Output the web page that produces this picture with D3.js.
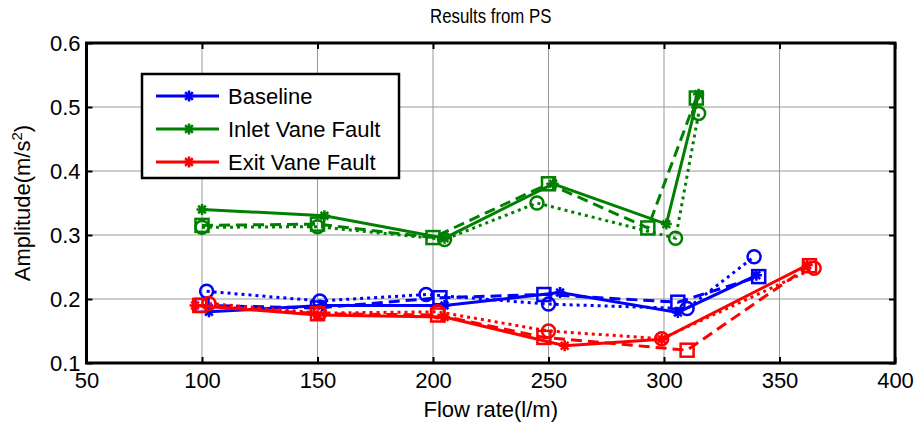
<!DOCTYPE html>
<html>
<head>
<meta charset="utf-8">
<script src="https://cdn.jsdelivr.net/npm/d3@7"></script>
<style>
  body { margin: 0; background: #fff; }
  text { font-family: "Liberation Sans", Arial, sans-serif; fill: #000; }
</style>
</head>
<body>
<div id="chart"></div>
<script>
// series: solid line with * markers, dashed with squares, dotted with circles
const baselineSolid = [[103, 0.180], [152, 0.190], [205, 0.190], [255, 0.210], [306, 0.179], [340, 0.237]];
const baselineDash  = [[100, 0.190], [150, 0.186], [203, 0.202], [248, 0.207], [306, 0.195], [341, 0.235]];
const baselineDot   = [[102, 0.212], [151, 0.197], [197, 0.207], [250, 0.192], [310, 0.185], [339, 0.266]];

const inletSolid = [[100, 0.340], [153, 0.330], [205, 0.295], [252, 0.380], [301, 0.317], [315, 0.520]];
const inletDash  = [[100, 0.315], [150, 0.317], [200, 0.296], [250, 0.380], [293, 0.311], [314, 0.514]];
const inletDot   = [[100, 0.312], [150, 0.313], [205, 0.293], [245, 0.350], [305, 0.295], [315, 0.490]];

const exitSolid = [[97, 0.190], [150, 0.175], [205, 0.172], [257, 0.127], [299, 0.137], [362, 0.253]];
const exitDash  = [[99, 0.190], [150, 0.177], [202, 0.175], [248, 0.140], [310, 0.120], [363, 0.252]];
const exitDot   = [[103, 0.193], [151, 0.178], [202, 0.180], [250, 0.150], [299, 0.138], [365, 0.248]];

const xTicks = [50, 100, 150, 200, 250, 300, 350, 400];
const yTicks = [0.1, 0.2, 0.3, 0.4, 0.5, 0.6];
const legendNames = ["Baseline", "Inlet Vane Fault", "Exit Vane Fault"];

const blue = "#0000ff", green = "#008000", red = "#ff0000";

const series = [
  { data: baselineSolid, color: blue, style: "solid", marker: "star" },
  { data: baselineDash, color: blue, style: "dash", marker: "square" },
  { data: baselineDot, color: blue, style: "dot", marker: "circle" },
  { data: inletSolid, color: green, style: "solid", marker: "star" },
  { data: inletDash, color: green, style: "dash", marker: "square" },
  { data: inletDot, color: green, style: "dot", marker: "circle" },
  { data: exitSolid, color: red, style: "solid", marker: "star" },
  { data: exitDash, color: red, style: "dash", marker: "square" },
  { data: exitDot, color: red, style: "dot", marker: "circle" }
];

const width = 917, height = 428;
const mLeft = 86.5, mRight = 895, mTop = 43, mBottom = 363;

const x = d3.scaleLinear().domain([50, 400]).range([mLeft, mRight]);
const y = d3.scaleLinear().domain([0.1, 0.6]).range([mBottom, mTop]);

const svg = d3.select("#chart").append("svg")
  .attr("width", width)
  .attr("height", height);

// grid
svg.append("g").selectAll("line")
  .data(xTicks.slice(1, -1))
  .enter().append("line")
  .attr("x1", d => x(d)).attr("x2", d => x(d))
  .attr("y1", mTop).attr("y2", mBottom)
  .attr("stroke", "#999").attr("stroke-width", 1);
svg.append("g").selectAll("line")
  .data(yTicks.slice(1, -1))
  .enter().append("line")
  .attr("y1", d => y(d)).attr("y2", d => y(d))
  .attr("x1", mLeft).attr("x2", mRight)
  .attr("stroke", "#999").attr("stroke-width", 1);

// axes with inward ticks
svg.append("g")
  .attr("transform", "translate(0," + mBottom + ")")
  .call(d3.axisBottom(x).tickValues(xTicks).tickSizeInner(-6).tickSizeOuter(0).tickPadding(9));
svg.append("g")
  .attr("transform", "translate(" + mLeft + ",0)")
  .call(d3.axisLeft(y).tickValues(yTicks).tickFormat(d3.format(".1f")).tickSizeInner(-6).tickSizeOuter(0).tickPadding(6));
svg.append("g")
  .attr("transform", "translate(0," + mTop + ")")
  .call(d3.axisTop(x).tickValues(xTicks).tickSizeInner(-6).tickSizeOuter(0).tickFormat(""));
svg.append("g")
  .attr("transform", "translate(" + mRight + ",0)")
  .call(d3.axisRight(y).tickValues(yTicks).tickSizeInner(-6).tickSizeOuter(0).tickFormat(""));

svg.selectAll(".domain").remove();
svg.selectAll(".tick line").attr("stroke", "#000").attr("stroke-width", 2);
svg.selectAll(".tick text").style("font-size", "22px");

svg.append("rect")
  .attr("x", mLeft).attr("y", mTop)
  .attr("width", mRight - mLeft).attr("height", mBottom - mTop)
  .attr("fill", "none").attr("stroke", "#000").attr("stroke-width", 3);

// lines
const line = d3.line().x(d => x(d[0])).y(d => y(d[1]));
const dashes = { solid: null, dash: "11,6", dot: "3,4" };

const plot = svg.append("g");

function drawMarker(g, type, color, cx, cy) {
  if (type === "circle") {
    g.append("circle").attr("cx", cx).attr("cy", cy).attr("r", 6.5)
      .attr("fill", "none").attr("stroke", color).attr("stroke-width", 2.5);
  } else if (type === "square") {
    g.append("rect").attr("x", cx - 6.5).attr("y", cy - 6.5)
      .attr("width", 13).attr("height", 13)
      .attr("fill", "none").attr("stroke", color).attr("stroke-width", 2.5);
  } else {
    const r = 5.5, d = r * 0.7;
    g.append("path")
      .attr("d", "M" + (cx - r) + "," + cy + "H" + (cx + r) +
                 "M" + cx + "," + (cy - r) + "V" + (cy + r) +
                 "M" + (cx - d) + "," + (cy - d) + "L" + (cx + d) + "," + (cy + d) +
                 "M" + (cx - d) + "," + (cy + d) + "L" + (cx + d) + "," + (cy - d))
      .attr("stroke", color).attr("stroke-width", 2.5).attr("fill", "none");
  }
}

series.forEach(s => {
  plot.append("path")
    .datum(s.data)
    .attr("d", line)
    .attr("fill", "none")
    .attr("stroke", s.color)
    .attr("stroke-width", 3)
    .attr("stroke-dasharray", dashes[s.style]);
  s.data.forEach(p => drawMarker(plot, s.marker, s.color, x(p[0]), y(p[1])));
});

// legend
const legend = svg.append("g");
legend.append("rect")
  .attr("x", 142).attr("y", 74).attr("width", 257).attr("height", 104)
  .attr("fill", "#fff").attr("stroke", "#000").attr("stroke-width", 2.5);
[blue, green, red].forEach((c, i) => {
  const ly = 96 + i * 33;
  legend.append("line")
    .attr("x1", 156).attr("x2", 219).attr("y1", ly).attr("y2", ly)
    .attr("stroke", c).attr("stroke-width", 3);
  drawMarker(legend, "star", c, 189, ly);
  legend.append("text")
    .attr("x", 228).attr("y", ly + 8)
    .style("font-size", "22px")
    .text(legendNames[i]);
});

// titles
svg.append("text")
  .attr("transform", "translate(" + ((mLeft + mRight) / 2) + ",23) scale(0.8,1)")
  .attr("text-anchor", "middle")
  .style("font-size", "21px")
  .text("Results from PS");

svg.append("text")
  .attr("x", (mLeft + mRight) / 2).attr("y", 417)
  .attr("text-anchor", "middle")
  .style("font-size", "22px")
  .text("Flow rate(l/m)");

const yl = svg.append("text")
  .attr("transform", "translate(30," + ((mTop + mBottom) / 2) + ") rotate(-90)")
  .attr("text-anchor", "middle")
  .style("font-size", "22px");
yl.append("tspan").text("Amplitude(m/s");
yl.append("tspan").attr("dy", -8).style("font-size", "15px").text("2");
yl.append("tspan").attr("dy", 8).text(")");
</script>
</body>
</html>
